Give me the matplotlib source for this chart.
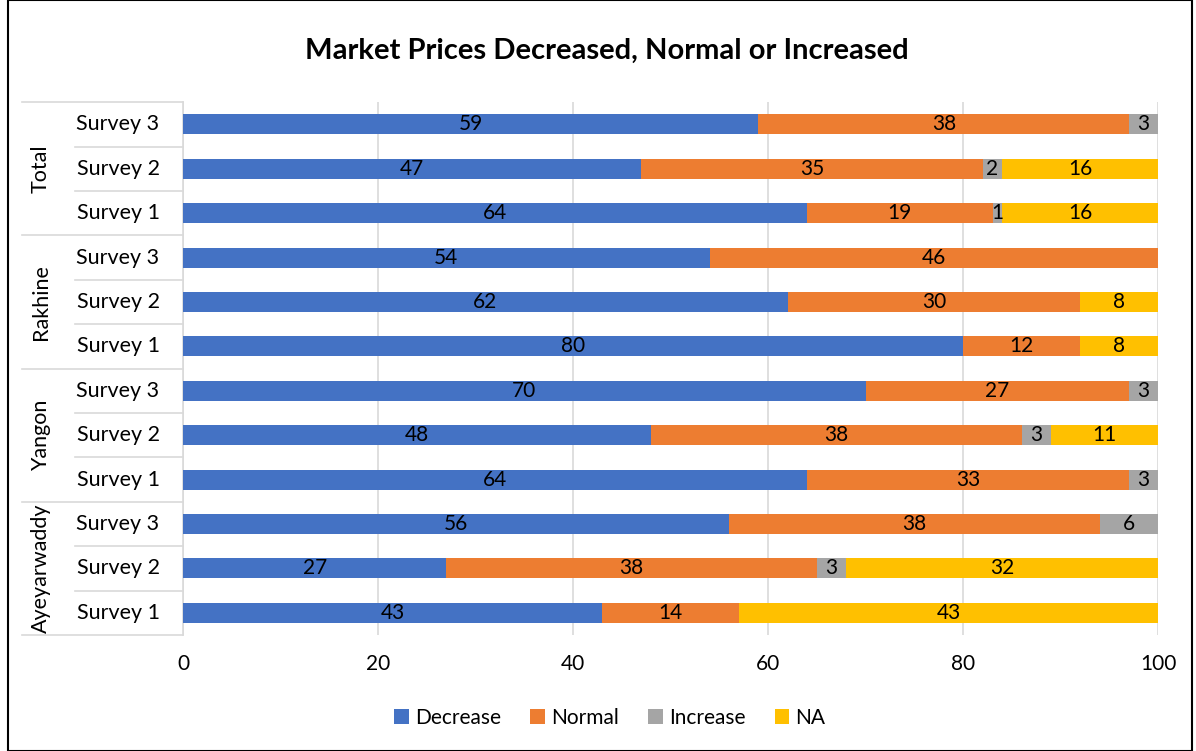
import matplotlib.pyplot as plt
import matplotlib.transforms as mtransforms
from matplotlib.patches import Rectangle
import numpy as np

plt.rcParams['font.family'] = ['Lato', 'DejaVu Sans']

# rows from bottom to top
groups = ["Ayeyarwaddy", "Yangon", "Rakhine", "Total"]
surveys = ["Survey 1", "Survey 2", "Survey 3"]
series = ["Decrease", "Normal", "Increase", "NA"]
decrease = [43, 27, 56, 64, 48, 70, 80, 62, 54, 64, 47, 59]
normal = [14, 38, 38, 33, 38, 27, 12, 30, 46, 19, 35, 38]
increase = [0, 3, 6, 3, 3, 3, 0, 0, 0, 1, 2, 3]
na = [43, 32, 0, 0, 11, 0, 8, 8, 0, 16, 16, 0]
colors = ["#4472C4", "#ED7D31", "#A5A5A5", "#FFC000"]

fig = plt.figure(figsize=(11.96, 7.51), dpi=100)
ax = fig.add_axes([0.153, 0.1545, 0.8155, 0.7095])

y = np.arange(len(decrease))
left = np.zeros(len(y))
for name, vals, c in zip(series, [decrease, normal, increase, na], colors):
    vals = np.array(vals)
    ax.barh(y, vals, left=left, height=0.45, color=c, label=name, zorder=3)
    for yi, l, v in zip(y, left, vals):
        if v > 0:
            ax.text(l + v / 2, yi, str(v), ha='center', va='center',
                    fontsize=15, color='black', zorder=4)
    left = left + vals

ax.set_xlim(0, 100)
ax.set_ylim(-0.5, len(y) - 0.5)
ax.set_xticks(range(0, 101, 20))
ax.tick_params(axis='x', length=0, labelsize=15, pad=14)
ax.set_yticks([])
ax.grid(axis='x', color='#D9D9D9', linewidth=1.2, zorder=0)
for s in ['top', 'right', 'bottom']:
    ax.spines[s].set_visible(False)
ax.spines['left'].set_color('#D9D9D9')
ax.spines['left'].set_linewidth(1.2)

# multi-level category axis
tr = mtransforms.blended_transform_factory(ax.transAxes, ax.transData)
for i in range(len(y)):
    ax.text(-0.024, y[i], surveys[i % 3], transform=tr, ha='right', va='center',
            fontsize=15.5)
for b in range(len(y) + 1):
    yb = b - 0.5
    x0 = -0.165 if b % 3 == 0 else -0.111
    ax.plot([x0, 0], [yb, yb], transform=tr, color='#D9D9D9', lw=1.2,
            clip_on=False)
for g, name in enumerate(groups):
    ax.text(-0.146, g * 3 + 1, name, transform=tr, rotation=90, ha='center',
            va='center', fontsize=15.5)

fig.text(0.507, 0.932, "Market Prices Decreased, Normal or Increased",
         ha='center', va='center', fontsize=21, fontweight='bold')

fig.legend(loc='center', bbox_to_anchor=(0.51, 0.044), ncol=4, frameon=False,
           fontsize=15, handlelength=0.7, handleheight=0.7, columnspacing=1.4,
           handletextpad=0.3)

fig.patches.append(Rectangle((0.007, 0.0), 0.99, 1.0, transform=fig.transFigure,
                             fill=False, edgecolor='black', lw=1.5))

fig.savefig("out.png", dpi=100)
